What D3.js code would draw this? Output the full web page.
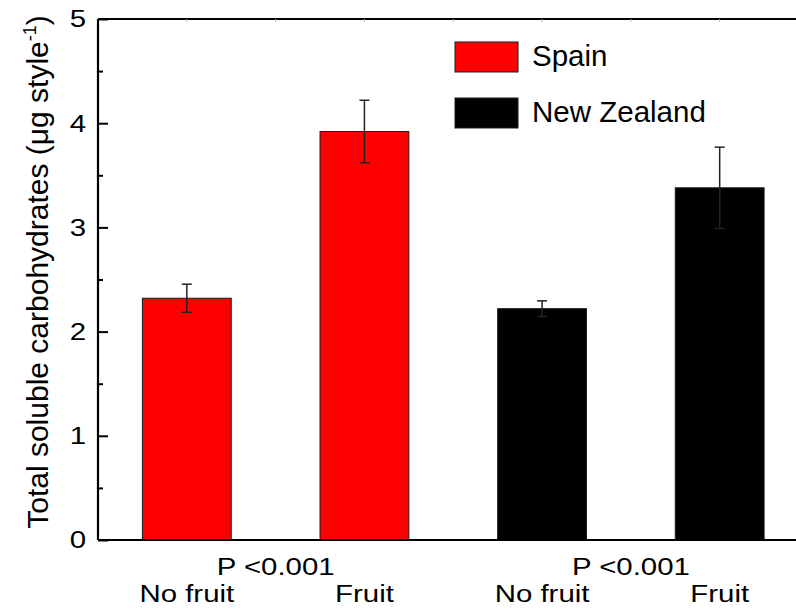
<!DOCTYPE html>
<html>
<head>
<meta charset="utf-8">
<script src="https://cdn.jsdelivr.net/npm/d3@7"></script>
<style>
  html, body { margin: 0; padding: 0; background: #fff; }
  svg { display: block; font-family: "Liberation Sans", Arial, sans-serif; }
</style>
</head>
<body>
<svg id="chart" width="796" height="610"></svg>
<script>
// Total soluble carbohydrates per style, by origin and fruit load
const categories = ["No fruit", "Fruit", "No fruit", "Fruit"];
const origins = ["Spain", "Spain", "New Zealand", "New Zealand"];
const means = [2.32, 3.92, 2.22, 3.38];
const errors = [0.135, 0.30, 0.075, 0.39];
const pLabels = ["P <0.001", "P <0.001"];
const pPositions = [1.5, 3.5];
const legendLabels = ["Spain", "New Zealand"];
const colors = { "Spain": "#ff0000", "New Zealand": "#000000" };
const yMajorTicks = [0, 1, 2, 3, 4, 5];
const yMinorTicks = [0.5, 1.5, 2.5, 3.5, 4.5];

const svg = d3.select("#chart");

const x = d3.scaleLinear().domain([0.5, 4.5]).range([98, 808.5]);
const y = d3.scaleLinear().domain([0, 5]).range([540, 19]);
const barHalf = 0.25; // bar width of half a category slot
const stretch = 1.2;  // horizontal stretch of the axis lettering

// bars
svg.append("g").selectAll("rect")
  .data(means)
  .join("rect")
  .attr("x", (d, i) => x(i + 1 - barHalf))
  .attr("width", (d, i) => x(i + 1 + barHalf) - x(i + 1 - barHalf))
  .attr("y", d => y(d))
  .attr("height", d => y(0) - y(d))
  .attr("fill", (d, i) => colors[origins[i]])
  .attr("stroke", "#1a1a1a")
  .attr("stroke-width", 1);

// error bars
const eb = svg.append("g").attr("stroke", "#222").attr("stroke-width", 1.5);
means.forEach((m, i) => {
  const cx = x(i + 1);
  eb.append("line").attr("x1", cx).attr("x2", cx)
    .attr("y1", y(m - errors[i])).attr("y2", y(m + errors[i]));
  [m - errors[i], m + errors[i]].forEach(v => {
    eb.append("line").attr("x1", cx - 5).attr("x2", cx + 5)
      .attr("y1", y(v)).attr("y2", y(v));
  });
});

// frame lines
const frame = svg.append("g").attr("stroke", "#000").attr("stroke-width", 2.2);
frame.append("line").attr("x1", x(0.5)).attr("x2", x(4.5)).attr("y1", y(5)).attr("y2", y(5));
frame.append("line").attr("x1", x(0.5)).attr("x2", x(4.5)).attr("y1", y(0)).attr("y2", y(0));
frame.append("line").attr("x1", x(0.5)).attr("x2", x(0.5)).attr("y1", y(0)).attr("y2", y(5));

// faint top ticks
svg.append("g").selectAll("line")
  .data(d3.range(1, 4.6, 0.5))
  .join("line")
  .attr("x1", d => x(d)).attr("x2", d => x(d))
  .attr("y1", y(5)).attr("y2", y(5) + 3)
  .attr("stroke", "#bbb").attr("stroke-width", 1);

// left axis: inward ticks, major and minor
const yAxis = d3.axisLeft(y).tickValues(yMajorTicks).tickFormat(d3.format("d"))
  .tickSizeInner(-10).tickSizeOuter(0).tickPadding(10);
const ga = svg.append("g").attr("transform", `translate(${x(0.5)},0)`).call(yAxis);
ga.select(".domain").remove();
ga.selectAll(".tick line").attr("stroke", "#000").attr("stroke-width", 2);
ga.selectAll(".tick text")
  .attr("font-size", 24.5)
  .attr("fill", "#000")
  .attr("font-family", "Liberation Sans, Arial, sans-serif")
  .attr("transform", `scale(${stretch},1)`);

const gm = svg.append("g").attr("transform", `translate(${x(0.5)},0)`)
  .call(d3.axisLeft(y).tickValues(yMinorTicks).tickFormat("").tickSizeInner(-5).tickSizeOuter(0));
gm.select(".domain").remove();
gm.selectAll(".tick line").attr("stroke", "#000").attr("stroke-width", 2);

// category labels below the axis
const labelG = svg.append("g").attr("fill", "#000").attr("font-size", 24.5);
pLabels.forEach((t, k) => {
  labelG.append("text")
    .attr("transform", `translate(${x(pPositions[k])},575) scale(${stretch},1)`)
    .attr("text-anchor", "middle").text(t);
});
categories.forEach((t, i) => {
  labelG.append("text")
    .attr("transform", `translate(${x(i + 1)},602) scale(${stretch},1)`)
    .attr("text-anchor", "middle").text(t);
});

// y axis title
const title = svg.append("text")
  .attr("transform", "translate(48,272) rotate(-90)")
  .attr("text-anchor", "middle")
  .attr("font-size", 30)
  .attr("fill", "#000");
title.append("tspan").text("Total soluble carbohydrates (\u03bcg style");
title.append("tspan").attr("font-size", 18).attr("dy", -12).text("-1");
title.append("tspan").attr("dy", 12).text(")");

// legend
const legend = svg.append("g");
legendLabels.forEach((name, k) => {
  const top = 42 + k * 56;
  legend.append("rect")
    .attr("x", 455).attr("y", top).attr("width", 63).attr("height", 30)
    .attr("fill", colors[name]).attr("stroke", "#1a1a1a").attr("stroke-width", 1);
  legend.append("text")
    .attr("x", 532).attr("y", top + 24)
    .attr("font-size", 29.5).attr("fill", "#000").text(name);
});
</script>
</body>
</html>
